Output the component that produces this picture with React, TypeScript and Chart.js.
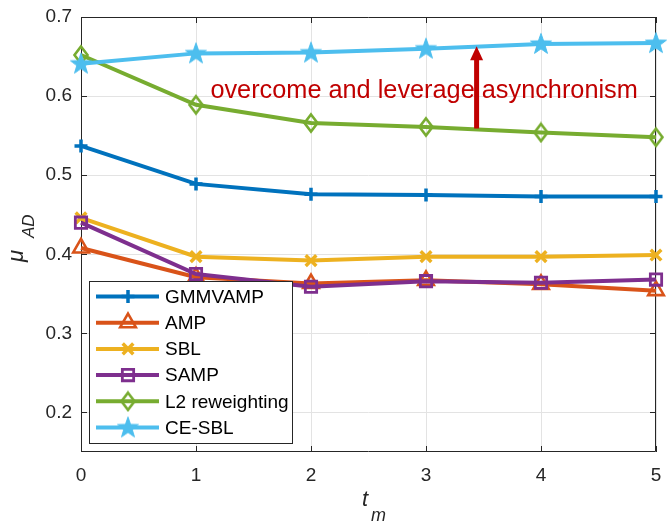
import React, { useEffect, useRef } from 'react';
import { Chart, registerables } from 'chart.js';
import { drawPoint } from 'chart.js/helpers';

Chart.register(...registerables);

// ---------- data ----------
const tm = [0, 1, 2, 3, 4, 5];
const gmmvamp = [0.537, 0.489, 0.476, 0.475, 0.473, 0.473];
const amp = [0.408, 0.371, 0.363, 0.367, 0.362, 0.354];
const sbl = [0.446, 0.397, 0.392, 0.397, 0.397, 0.399];
const samp = [0.44, 0.375, 0.359, 0.366, 0.364, 0.368];
const l2rew = [0.652, 0.589, 0.566, 0.561, 0.554, 0.548];
const cesbl = [0.641, 0.654, 0.655, 0.66, 0.666, 0.667];
const seriesNames = ['GMMVAMP', 'AMP', 'SBL', 'SAMP', 'L2 reweighting', 'CE-SBL'];
const xTicks = [0, 1, 2, 3, 4, 5];
const yTicks = [0.2, 0.3, 0.4, 0.5, 0.6, 0.7];
const annotationText = 'overcome and leverage asynchronism';

const COLORS = ['#0072BD', '#D95319', '#EDB120', '#7E2F8E', '#77AC30', '#4DBEEE'];
const AXIS = '#262626';
const FONT = "'Liberation Sans', Arial, Helvetica, sans-serif";

function makeStar(color: string): HTMLCanvasElement {
  const c = document.createElement('canvas');
  c.width = 26;
  c.height = 26;
  const ctx = c.getContext('2d')!;
  const cx = 13, cy = 13.5, R = 11, r = 4.4;
  ctx.beginPath();
  for (let i = 0; i < 10; i++) {
    const rad = -Math.PI / 2 + (i * Math.PI) / 5;
    const rr = i % 2 === 0 ? R : r;
    const x = cx + rr * Math.cos(rad);
    const y = cy + rr * Math.sin(rad);
    if (i === 0) ctx.moveTo(x, y);
    else ctx.lineTo(x, y);
  }
  ctx.closePath();
  ctx.fillStyle = color;
  ctx.fill();
  ctx.strokeStyle = color;
  ctx.lineWidth = 1;
  ctx.stroke();
  return c;
}

function makeDiamond(color: string): HTMLCanvasElement {
  const c = document.createElement('canvas');
  c.width = 18;
  c.height = 22;
  const ctx = c.getContext('2d')!;
  ctx.beginPath();
  ctx.moveTo(9, 2.5);
  ctx.lineTo(15.5, 11);
  ctx.lineTo(9, 19.5);
  ctx.lineTo(2.5, 11);
  ctx.closePath();
  ctx.strokeStyle = color;
  ctx.lineWidth = 2.6;
  ctx.stroke();
  return c;
}

const App: React.FC = () => {
  const ref = useRef<HTMLCanvasElement | null>(null);

  useEffect(() => {
    if (!ref.current) return;
    const star = makeStar(COLORS[5]);
    const diamond = makeDiamond(COLORS[4]);

    const values = [gmmvamp, amp, sbl, samp, l2rew, cesbl];
    const markers: any[] = [
      { pointStyle: 'cross', pointRadius: 6.5, pointBorderWidth: 3.5 },
      { pointStyle: 'triangle', pointRadius: 9, pointBorderWidth: 2.6 },
      { pointStyle: 'crossRot', pointRadius: 7.5, pointBorderWidth: 3.5 },
      { pointStyle: 'rect', pointRadius: 8, pointBorderWidth: 2.8 },
      { pointStyle: diamond, pointRadius: 8, pointBorderWidth: 2.6 },
      { pointStyle: star, pointRadius: 11, pointBorderWidth: 1 },
    ];

    const datasets = values.map((vals, i) => ({
      label: seriesNames[i],
      data: tm.map((x, j) => ({ x, y: vals[j] })),
      borderColor: COLORS[i],
      backgroundColor: COLORS[i],
      borderWidth: 4,
      pointBorderColor: COLORS[i],
      pointBackgroundColor: 'rgba(0,0,0,0)',
      tension: 0,
      clip: false as any,
      order: 6 - i,
      ...markers[i],
    }));

    const framePlugin = {
      id: 'frame',
      beforeDatasetsDraw(chart: any) {
        const { ctx, chartArea: a, scales } = chart;
        ctx.save();
        ctx.strokeStyle = AXIS;
        ctx.lineWidth = 1;
        ctx.beginPath();
        ctx.rect(a.left + 0.5, a.top + 0.5, a.right - a.left - 1, a.bottom - a.top - 1);
        ctx.stroke();
        const tl = 6;
        ctx.beginPath();
        xTicks.forEach((v) => {
          const x = Math.round(scales.x.getPixelForValue(v)) + 0.5;
          ctx.moveTo(x, a.bottom);
          ctx.lineTo(x, a.bottom - tl);
          ctx.moveTo(x, a.top);
          ctx.lineTo(x, a.top + tl);
        });
        yTicks.forEach((v) => {
          const y = Math.round(scales.y.getPixelForValue(v)) + 0.5;
          ctx.moveTo(a.left, y);
          ctx.lineTo(a.left + tl, y);
          ctx.moveTo(a.right, y);
          ctx.lineTo(a.right - tl, y);
        });
        ctx.stroke();
        ctx.restore();
      },
    };

    const overlayPlugin = {
      id: 'overlay',
      afterDraw(chart: any) {
        const { ctx, chartArea: a, scales } = chart;
        const xs = scales.x, ys = scales.y;
        ctx.save();

        // annotation text
        ctx.font = `25.3px ${FONT}`;
        ctx.fillStyle = '#C00000';
        ctx.textAlign = 'left';
        ctx.textBaseline = 'alphabetic';
        ctx.fillText(annotationText, xs.getPixelForValue(1.125), ys.getPixelForValue(0.598));

        // arrow
        const ax = xs.getPixelForValue(3.44);
        const yBot = ys.getPixelForValue(0.559);
        const yTip = ys.getPixelForValue(0.663);
        const headH = 14, headW = 13;
        ctx.strokeStyle = '#C00000';
        ctx.fillStyle = '#C00000';
        ctx.lineWidth = 5;
        ctx.beginPath();
        ctx.moveTo(ax, yBot);
        ctx.lineTo(ax, yTip + headH - 1);
        ctx.stroke();
        ctx.beginPath();
        ctx.moveTo(ax, yTip);
        ctx.lineTo(ax + headW / 2, yTip + headH);
        ctx.lineTo(ax - headW / 2, yTip + headH);
        ctx.closePath();
        ctx.fill();

        // legend
        const lx = a.left + 8, lw = 204, lh = 163;
        const lyTop = a.bottom - 8 - lh;
        ctx.fillStyle = '#ffffff';
        ctx.fillRect(lx, lyTop, lw, lh);
        ctx.strokeStyle = AXIS;
        ctx.lineWidth = 1;
        ctx.strokeRect(lx + 0.5, lyTop + 0.5, lw - 1, lh - 1);
        chart.data.datasets.forEach((ds: any, i: number) => {
          const y = lyTop + 15.5 + i * 26.2;
          ctx.strokeStyle = ds.borderColor;
          ctx.lineWidth = 4;
          ctx.beginPath();
          ctx.moveTo(lx + 7, y);
          ctx.lineTo(lx + 70, y);
          ctx.stroke();
          ctx.strokeStyle = ds.pointBorderColor;
          ctx.fillStyle = ds.pointBackgroundColor;
          ctx.lineWidth = ds.pointBorderWidth;
          drawPoint(ctx, { pointStyle: ds.pointStyle, radius: ds.pointRadius, borderWidth: ds.pointBorderWidth, rotation: 0 } as any, lx + 39, y);
          ctx.fillStyle = '#000000';
          ctx.font = `19px ${FONT}`;
          ctx.textAlign = 'left';
          ctx.textBaseline = 'middle';
          ctx.fillText(ds.label, lx + 76, y + 1);
        });

        // axis titles
        ctx.fillStyle = AXIS;
        ctx.textBaseline = 'alphabetic';
        ctx.textAlign = 'left';
        ctx.font = `italic 22px ${FONT}`;
        ctx.fillText('t', 362, 506);
        ctx.font = `italic 18px ${FONT}`;
        ctx.fillText('m', 371, 521);

        ctx.save();
        ctx.rotate(-Math.PI / 2);
        ctx.font = `italic 22px ${FONT}`;
        ctx.fillText('\u03BC', -262, 23);
        ctx.font = `italic 17px ${FONT}`;
        ctx.fillText('AD', -238, 34);
        ctx.restore();

        ctx.restore();
      },
    };

    const chart = new Chart(ref.current, {
      type: 'line',
      data: { datasets: datasets as any },
      options: {
        responsive: false,
        animation: false,
        events: [],
        layout: { padding: { top: 17, right: 9, left: 0, bottom: 0 } },
        plugins: { legend: { display: false }, tooltip: { enabled: false } },
        scales: {
          x: {
            type: 'linear',
            min: 0,
            max: 5,
            afterBuildTicks: (s: any) => {
              s.ticks = xTicks.map((v) => ({ value: v }));
            },
            afterFit: (s: any) => {
              s.height = 73;
              s.paddingLeft = 0;
              s.paddingRight = 0;
            },
            grid: { color: '#e3e3e3', lineWidth: 1, drawTicks: false },
            border: { display: false },
            ticks: {
              padding: 12,
              color: AXIS,
              font: { family: FONT, size: 19 },
              maxRotation: 0,
              callback: (v: any) => String(v),
            },
          },
          y: {
            type: 'linear',
            min: 0.15,
            max: 0.7,
            afterBuildTicks: (s: any) => {
              s.ticks = yTicks.map((v) => ({ value: v }));
            },
            afterFit: (s: any) => {
              s.width = 81;
              s.paddingTop = 0;
              s.paddingBottom = 0;
            },
            grid: { color: '#e3e3e3', lineWidth: 1, drawTicks: false },
            border: { display: false },
            ticks: {
              padding: 9,
              color: AXIS,
              font: { family: FONT, size: 19 },
              callback: (v: any) => Number(v).toFixed(1),
            },
          },
        },
      },
      plugins: [framePlugin, overlayPlugin],
    });
    return () => chart.destroy();
  }, []);

  return (
    <div style={{ position: 'fixed', left: 0, top: 0, width: 668, height: 525, background: '#fff' }}>
      <canvas ref={ref} width={668} height={525} style={{ display: 'block' }} />
    </div>
  );
};

export default App;
